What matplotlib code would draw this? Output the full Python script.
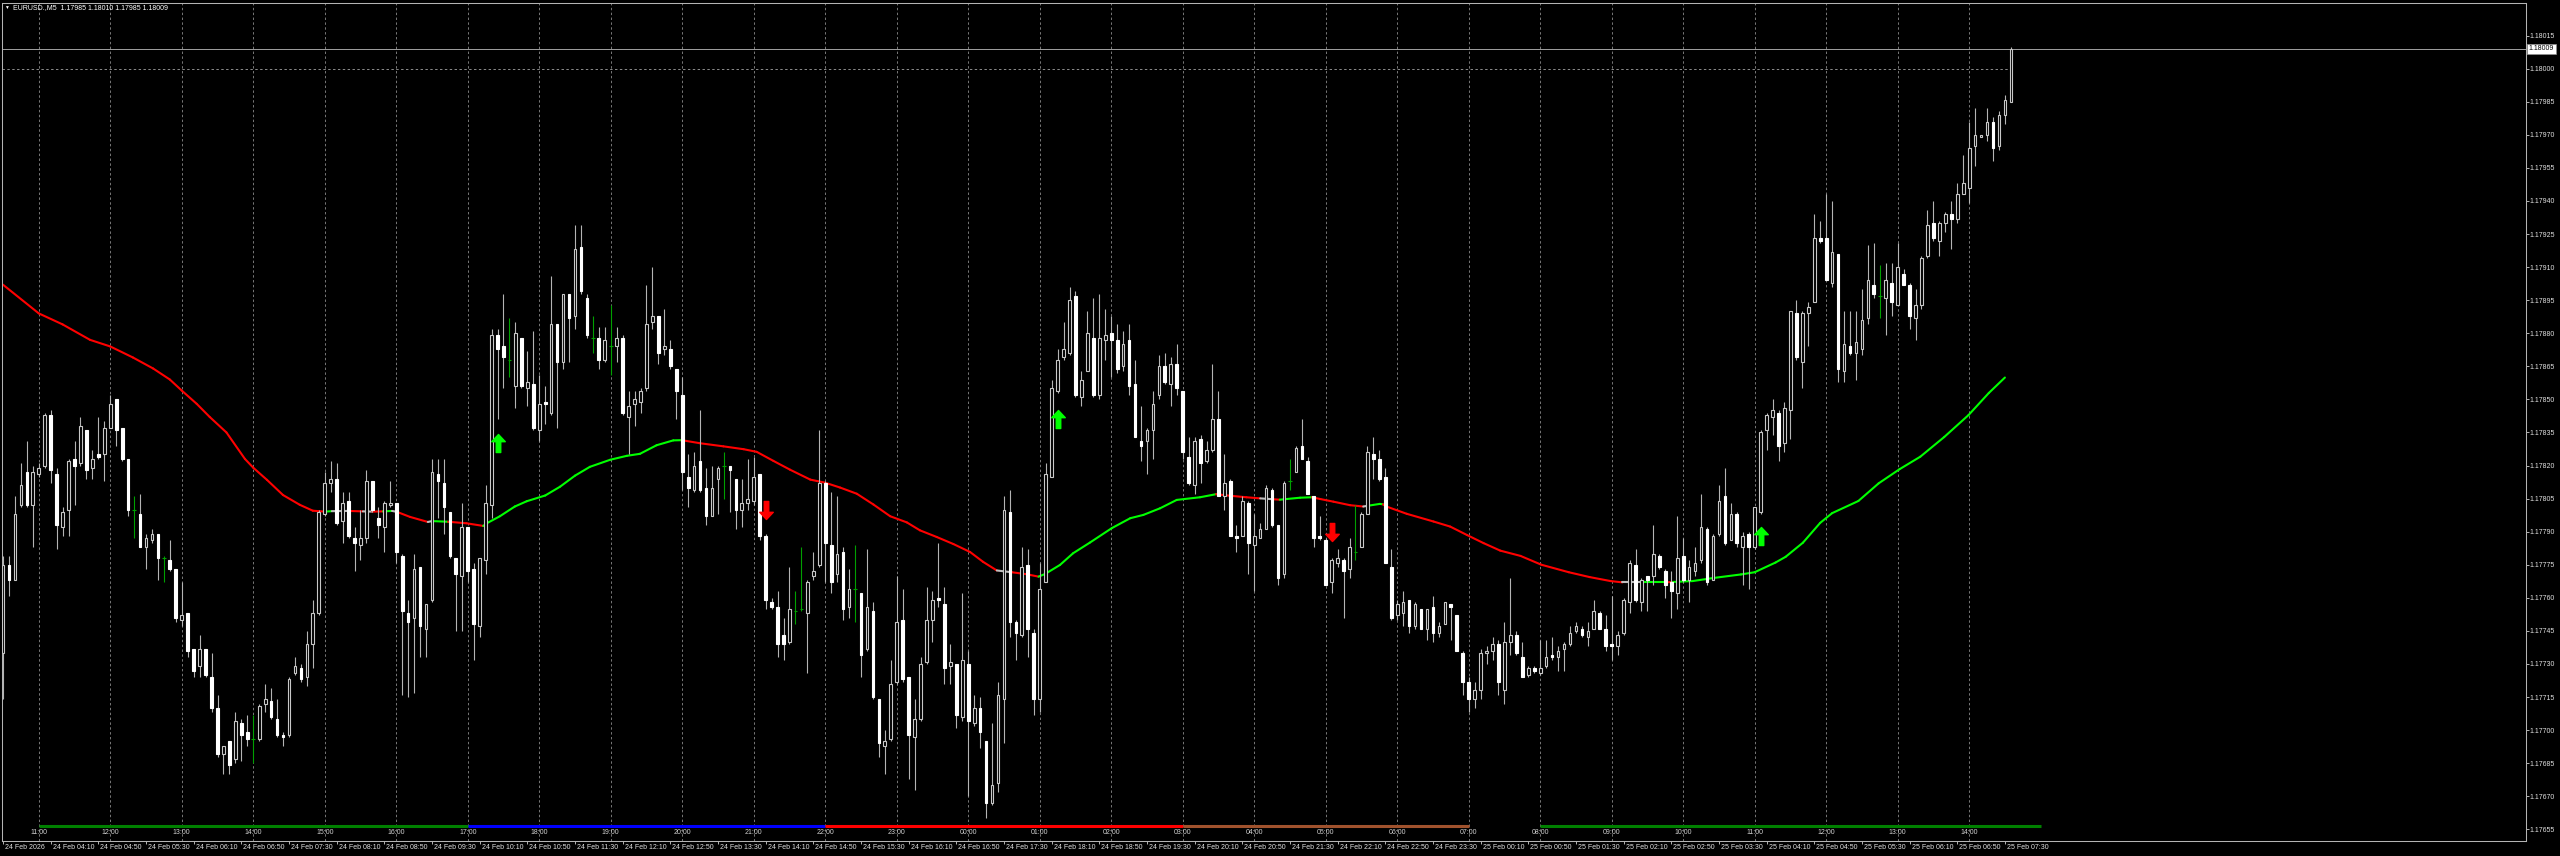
import numpy as np
import matplotlib.pyplot as plt
import matplotlib.transforms as mtransforms
from matplotlib.collections import LineCollection
from matplotlib.path import Path

plt.rcParams['font.family'] = ['Liberation Sans', 'DejaVu Sans']

# EURUSD M5 candles (bar 0 = 24 Feb 03:30)
opens = [
    1.17735, 1.17775, 1.17768, 1.17802, 1.17817, 1.17802, 1.17816, 1.17820, 1.17843, 1.17816,
    1.17792, 1.17800, 1.17823, 1.17821, 1.17836, 1.17819, 1.17825, 1.17825, 1.17837, 1.17850,
    1.17837, 1.17823, 1.17800, 1.17798, 1.17783, 1.17786, 1.17789, 1.17778, 1.17777, 1.17773,
    1.17750, 1.17753, 1.17737, 1.17729, 1.17737, 1.17724, 1.17710, 1.17689, 1.17695, 1.17687,
    1.17703, 1.17699, 1.17696, 1.17696, 1.17712, 1.17713, 1.17705, 1.17698, 1.17698, 1.17726,
    1.17728, 1.17724, 1.17739, 1.17753, 1.17798, 1.17812, 1.17814, 1.17795, 1.17804, 1.17787,
    1.17784, 1.17787, 1.17813, 1.17796, 1.17792, 1.17802, 1.17803, 1.17779, 1.17753, 1.17751,
    1.17774, 1.17746, 1.17759, 1.17816, 1.17812, 1.17799, 1.17778, 1.17770, 1.17792, 1.17773,
    1.17747, 1.17777, 1.17802, 1.17879, 1.17874, 1.17868, 1.17856, 1.17878, 1.17855, 1.17857,
    1.17836, 1.17849, 1.17844, 1.17884, 1.17867, 1.17898, 1.17888, 1.17919, 1.17896, 1.17878,
    1.17878, 1.17868, 1.17874, 1.17874, 1.17878, 1.17842, 1.17848, 1.17849, 1.17855, 1.17885,
    1.17888, 1.17873, 1.17873, 1.17864, 1.17852, 1.17815, 1.17809, 1.17822, 1.17810, 1.17797,
    1.17814, 1.17820, 1.17820, 1.17814, 1.17800, 1.17803, 1.17804, 1.17816, 1.17788, 1.17758,
    1.17756, 1.17743, 1.17740, 1.17754, 1.17755, 1.17753, 1.17770, 1.17775, 1.17812, 1.17784,
    1.17771, 1.17781, 1.17756, 1.17764, 1.17762, 1.17737, 1.17754, 1.17714, 1.17693, 1.17696,
    1.17722, 1.17750, 1.17724, 1.17697, 1.17705, 1.17731, 1.17750, 1.17760, 1.17757, 1.17729,
    1.17730, 1.17706, 1.17730, 1.17703, 1.17710, 1.17695, 1.17667, 1.17676, 1.17714, 1.17799,
    1.17749, 1.17743, 1.17775, 1.17744, 1.17714, 1.17767, 1.17815, 1.17854, 1.17869, 1.17871,
    1.17897, 1.17851, 1.17863, 1.17878, 1.17852, 1.17877, 1.17880, 1.17877, 1.17865, 1.17877,
    1.17857, 1.17831, 1.17831, 1.17836, 1.17852, 1.17865, 1.17857, 1.17866, 1.17854, 1.17824,
    1.17811, 1.17832, 1.17822, 1.17827, 1.17841, 1.17806, 1.17813, 1.17788, 1.17788, 1.17803,
    1.17784, 1.17787, 1.17791, 1.17809, 1.17793, 1.17771, 1.17813, 1.17817, 1.17829, 1.17822,
    1.17806, 1.17788, 1.17786, 1.17767, 1.17776, 1.17777, 1.17773, 1.17781, 1.17783, 1.17798,
    1.17825, 1.17823, 1.17815, 1.17774, 1.17752, 1.17753, 1.17759, 1.17747, 1.17755, 1.17746,
    1.17756, 1.17744, 1.17748, 1.17757, 1.17752, 1.17735, 1.17722, 1.17714, 1.17718, 1.17735,
    1.17736, 1.17739, 1.17718, 1.17740, 1.17743, 1.17733, 1.17725, 1.17728, 1.17726, 1.17729,
    1.17734, 1.17733, 1.17737, 1.17739, 1.17745, 1.17746, 1.17742, 1.17746, 1.17753, 1.17746,
    1.17739, 1.17738, 1.17744, 1.17758, 1.17775, 1.17758, 1.17770, 1.17770, 1.17779, 1.17772,
    1.17767, 1.17762, 1.17779, 1.17768, 1.17772, 1.17777, 1.17791, 1.17768, 1.17789, 1.17806,
    1.17786, 1.17798, 1.17783, 1.17789, 1.17783, 1.17799, 1.17836, 1.17842, 1.17844, 1.17830,
    1.17845, 1.17889, 1.17867, 1.17889, 1.17894, 1.17923, 1.17923, 1.17903, 1.17916, 1.17863,
    1.17874, 1.17871, 1.17873, 1.17887, 1.17902, 1.17897, 1.17896, 1.17903, 1.17893, 1.17907,
    1.17902, 1.17887, 1.17893, 1.17915, 1.17930, 1.17922, 1.17930, 1.17934, 1.17932, 1.17943,
    1.17946, 1.17965, 1.17969, 1.17970, 1.17976, 1.17965, 1.17979, 1.17985,
]
highs = [
    1.17779, 1.17779, 1.17806, 1.17821, 1.17831, 1.17820, 1.17821, 1.17844, 1.17845, 1.17819,
    1.17801, 1.17823, 1.17831, 1.17842, 1.17836, 1.17827, 1.17842, 1.17840, 1.17852, 1.17850,
    1.17837, 1.17823, 1.17806, 1.17807, 1.17789, 1.17791, 1.17789, 1.17779, 1.17786, 1.17773,
    1.17767, 1.17753, 1.17737, 1.17743, 1.17737, 1.17735, 1.17716, 1.17693, 1.17695, 1.17708,
    1.17705, 1.17707, 1.17707, 1.17712, 1.17721, 1.17719, 1.17714, 1.17699, 1.17724, 1.17733,
    1.17730, 1.17745, 1.17759, 1.17800, 1.17817, 1.17822, 1.17821, 1.17808, 1.17808, 1.17792,
    1.17800, 1.17818, 1.17813, 1.17801, 1.17804, 1.17813, 1.17803, 1.17780, 1.17759, 1.17780,
    1.17774, 1.17757, 1.17823, 1.17823, 1.17823, 1.17799, 1.17778, 1.17803, 1.17792, 1.17776,
    1.17778, 1.17811, 1.17882, 1.17882, 1.17898, 1.17887, 1.17885, 1.17878, 1.17872, 1.17881,
    1.17861, 1.17856, 1.17906, 1.17884, 1.17898, 1.17898, 1.17929, 1.17929, 1.17898, 1.17888,
    1.17883, 1.17883, 1.17893, 1.17883, 1.17879, 1.17854, 1.17854, 1.17855, 1.17902, 1.17910,
    1.17888, 1.17891, 1.17877, 1.17864, 1.17860, 1.17825, 1.17826, 1.17845, 1.17819, 1.17820,
    1.17820, 1.17826, 1.17820, 1.17814, 1.17814, 1.17823, 1.17824, 1.17816, 1.17789, 1.17760,
    1.17763, 1.17751, 1.17774, 1.17763, 1.17783, 1.17768, 1.17781, 1.17836, 1.17813, 1.17808,
    1.17806, 1.17783, 1.17773, 1.17784, 1.17762, 1.17782, 1.17758, 1.17714, 1.17700, 1.17732,
    1.17770, 1.17764, 1.17724, 1.17714, 1.17733, 1.17765, 1.17763, 1.17785, 1.17765, 1.17739,
    1.17730, 1.17762, 1.17736, 1.17716, 1.17715, 1.17695, 1.17703, 1.17722, 1.17806, 1.17809,
    1.17750, 1.17783, 1.17782, 1.17746, 1.17776, 1.17821, 1.17859, 1.17873, 1.17885, 1.17901,
    1.17899, 1.17863, 1.17890, 1.17896, 1.17898, 1.17891, 1.17888, 1.17884, 1.17881, 1.17884,
    1.17868, 1.17847, 1.17837, 1.17854, 1.17870, 1.17871, 1.17869, 1.17875, 1.17854, 1.17833,
    1.17833, 1.17834, 1.17831, 1.17866, 1.17854, 1.17825, 1.17814, 1.17793, 1.17806, 1.17804,
    1.17798, 1.17794, 1.17811, 1.17810, 1.17793, 1.17813, 1.17823, 1.17829, 1.17841, 1.17824,
    1.17806, 1.17797, 1.17787, 1.17778, 1.17782, 1.17778, 1.17787, 1.17802, 1.17799, 1.17829,
    1.17833, 1.17827, 1.17819, 1.17782, 1.17759, 1.17763, 1.17759, 1.17758, 1.17755, 1.17755,
    1.17761, 1.17749, 1.17758, 1.17757, 1.17752, 1.17736, 1.17724, 1.17722, 1.17737, 1.17738,
    1.17742, 1.17741, 1.17749, 1.17769, 1.17745, 1.17740, 1.17729, 1.17729, 1.17741, 1.17741,
    1.17742, 1.17738, 1.17740, 1.17747, 1.17749, 1.17747, 1.17749, 1.17759, 1.17754, 1.17752,
    1.17761, 1.17745, 1.17760, 1.17777, 1.17782, 1.17769, 1.17770, 1.17793, 1.17780, 1.17773,
    1.17772, 1.17797, 1.17787, 1.17777, 1.17783, 1.17807, 1.17792, 1.17789, 1.17811, 1.17819,
    1.17803, 1.17799, 1.17790, 1.17790, 1.17801, 1.17836, 1.17844, 1.17850, 1.17845, 1.17849,
    1.17890, 1.17895, 1.17890, 1.17894, 1.17934, 1.17931, 1.17943, 1.17940, 1.17916, 1.17890,
    1.17890, 1.17890, 1.17900, 1.17920, 1.17921, 1.17911, 1.17912, 1.17912, 1.17921, 1.17909,
    1.17903, 1.17900, 1.17915, 1.17936, 1.17940, 1.17931, 1.17935, 1.17940, 1.17948, 1.17961,
    1.17976, 1.17982, 1.17970, 1.17982, 1.17978, 1.17981, 1.17988, 1.18010,
]
lows = [
    1.17714, 1.17761, 1.17768, 1.17801, 1.17801, 1.17783, 1.17815, 1.17819, 1.17812, 1.17782,
    1.17788, 1.17788, 1.17802, 1.17820, 1.17814, 1.17814, 1.17823, 1.17813, 1.17837, 1.17829,
    1.17822, 1.17797, 1.17787, 1.17783, 1.17773, 1.17785, 1.17768, 1.17767, 1.17772, 1.17749,
    1.17747, 1.17733, 1.17724, 1.17724, 1.17724, 1.17708, 1.17688, 1.17680, 1.17680, 1.17685,
    1.17686, 1.17693, 1.17685, 1.17695, 1.17708, 1.17705, 1.17697, 1.17693, 1.17697, 1.17725,
    1.17722, 1.17720, 1.17728, 1.17752, 1.17797, 1.17808, 1.17793, 1.17785, 1.17787, 1.17772,
    1.17777, 1.17785, 1.17799, 1.17787, 1.17781, 1.17801, 1.17776, 1.17716, 1.17715, 1.17717,
    1.17733, 1.17733, 1.17758, 1.17796, 1.17789, 1.17778, 1.17745, 1.17745, 1.17767, 1.17732,
    1.17742, 1.17771, 1.17796, 1.17841, 1.17855, 1.17860, 1.17846, 1.17855, 1.17847, 1.17836,
    1.17831, 1.17839, 1.17843, 1.17837, 1.17864, 1.17867, 1.17882, 1.17898, 1.17878, 1.17871,
    1.17864, 1.17867, 1.17861, 1.17867, 1.17843, 1.17825, 1.17838, 1.17844, 1.17854, 1.17882,
    1.17866, 1.17870, 1.17864, 1.17841, 1.17809, 1.17801, 1.17808, 1.17808, 1.17793, 1.17797,
    1.17798, 1.17805, 1.17799, 1.17791, 1.17792, 1.17800, 1.17802, 1.17786, 1.17755, 1.17755,
    1.17733, 1.17732, 1.17739, 1.17748, 1.17754, 1.17726, 1.17768, 1.17774, 1.17767, 1.17762,
    1.17767, 1.17750, 1.17751, 1.17749, 1.17724, 1.17736, 1.17714, 1.17688, 1.17680, 1.17695,
    1.17721, 1.17722, 1.17678, 1.17673, 1.17704, 1.17730, 1.17740, 1.17756, 1.17721, 1.17721,
    1.17701, 1.17704, 1.17670, 1.17702, 1.17692, 1.17660, 1.17666, 1.17672, 1.17694, 1.17742,
    1.17732, 1.17742, 1.17733, 1.17707, 1.17708, 1.17767, 1.17815, 1.17853, 1.17868, 1.17870,
    1.17851, 1.17847, 1.17863, 1.17851, 1.17850, 1.17868, 1.17860, 1.17862, 1.17863, 1.17852,
    1.17833, 1.17822, 1.17816, 1.17823, 1.17850, 1.17857, 1.17847, 1.17852, 1.17823, 1.17811,
    1.17807, 1.17812, 1.17821, 1.17826, 1.17806, 1.17800, 1.17788, 1.17781, 1.17788, 1.17771,
    1.17763, 1.17787, 1.17791, 1.17792, 1.17766, 1.17769, 1.17809, 1.17817, 1.17823, 1.17807,
    1.17783, 1.17786, 1.17766, 1.17762, 1.17774, 1.17751, 1.17769, 1.17777, 1.17783, 1.17798,
    1.17814, 1.17813, 1.17776, 1.17750, 1.17750, 1.17747, 1.17744, 1.17746, 1.17746, 1.17741,
    1.17740, 1.17742, 1.17748, 1.17741, 1.17736, 1.17716, 1.17708, 1.17710, 1.17714, 1.17730,
    1.17732, 1.17716, 1.17712, 1.17734, 1.17734, 1.17724, 1.17724, 1.17726, 1.17725, 1.17728,
    1.17732, 1.17727, 1.17727, 1.17738, 1.17744, 1.17742, 1.17738, 1.17746, 1.17746, 1.17736,
    1.17732, 1.17734, 1.17743, 1.17753, 1.17758, 1.17754, 1.17754, 1.17766, 1.17773, 1.17760,
    1.17751, 1.17755, 1.17767, 1.17758, 1.17770, 1.17776, 1.17766, 1.17768, 1.17788, 1.17784,
    1.17786, 1.17783, 1.17766, 1.17764, 1.17782, 1.17798, 1.17827, 1.17834, 1.17822, 1.17826,
    1.17832, 1.17868, 1.17855, 1.17874, 1.17894, 1.17921, 1.17904, 1.17901, 1.17858, 1.17858,
    1.17870, 1.17859, 1.17870, 1.17884, 1.17896, 1.17887, 1.17879, 1.17888, 1.17893, 1.17902,
    1.17882, 1.17877, 1.17891, 1.17914, 1.17922, 1.17915, 1.17926, 1.17918, 1.17930, 1.17943,
    1.17939, 1.17956, 1.17969, 1.17967, 1.17958, 1.17963, 1.17975, 1.17985,
]
closes = [
    1.17775, 1.17768, 1.17798, 1.17811, 1.17802, 1.17817, 1.17819, 1.17843, 1.17818, 1.17793,
    1.17799, 1.17822, 1.17820, 1.17838, 1.17818, 1.17823, 1.17824, 1.17837, 1.17848, 1.17836,
    1.17823, 1.17800, 1.17800, 1.17783, 1.17787, 1.17789, 1.17778, 1.17778, 1.17773, 1.17751,
    1.17752, 1.17736, 1.17727, 1.17737, 1.17725, 1.17710, 1.17689, 1.17693, 1.17684, 1.17704,
    1.17698, 1.17696, 1.17696, 1.17711, 1.17714, 1.17706, 1.17698, 1.17697, 1.17723, 1.17729,
    1.17723, 1.17739, 1.17753, 1.17799, 1.17812, 1.17814, 1.17794, 1.17803, 1.17788, 1.17785,
    1.17787, 1.17813, 1.17800, 1.17793, 1.17803, 1.17803, 1.17781, 1.17754, 1.17749, 1.17773,
    1.17747, 1.17757, 1.17817, 1.17813, 1.17801, 1.17779, 1.17771, 1.17792, 1.17772, 1.17748,
    1.17778, 1.17803, 1.17879, 1.17873, 1.17869, 1.17868, 1.17880, 1.17856, 1.17858, 1.17837,
    1.17848, 1.17848, 1.17884, 1.17867, 1.17898, 1.17887, 1.17918, 1.17899, 1.17879, 1.17878,
    1.17868, 1.17877, 1.17874, 1.17878, 1.17844, 1.17847, 1.17850, 1.17854, 1.17884, 1.17888,
    1.17871, 1.17874, 1.17865, 1.17854, 1.17817, 1.17810, 1.17820, 1.17809, 1.17797, 1.17810,
    1.17819, 1.17820, 1.17818, 1.17800, 1.17803, 1.17805, 1.17815, 1.17788, 1.17759, 1.17756,
    1.17739, 1.17739, 1.17755, 1.17754, 1.17755, 1.17767, 1.17772, 1.17812, 1.17785, 1.17767,
    1.17780, 1.17755, 1.17764, 1.17764, 1.17734, 1.17756, 1.17715, 1.17694, 1.17695, 1.17721,
    1.17749, 1.17723, 1.17698, 1.17705, 1.17730, 1.17750, 1.17759, 1.17759, 1.17728, 1.17731,
    1.17707, 1.17732, 1.17704, 1.17710, 1.17699, 1.17667, 1.17675, 1.17716, 1.17800, 1.17749,
    1.17744, 1.17774, 1.17746, 1.17714, 1.17764, 1.17816, 1.17855, 1.17868, 1.17873, 1.17895,
    1.17852, 1.17859, 1.17880, 1.17852, 1.17878, 1.17879, 1.17877, 1.17864, 1.17875, 1.17856,
    1.17833, 1.17829, 1.17836, 1.17848, 1.17865, 1.17858, 1.17866, 1.17855, 1.17826, 1.17812,
    1.17831, 1.17821, 1.17827, 1.17841, 1.17806, 1.17812, 1.17788, 1.17787, 1.17804, 1.17785,
    1.17788, 1.17791, 1.17810, 1.17793, 1.17769, 1.17812, 1.17813, 1.17828, 1.17823, 1.17807,
    1.17787, 1.17787, 1.17766, 1.17777, 1.17778, 1.17772, 1.17783, 1.17781, 1.17798, 1.17826,
    1.17823, 1.17814, 1.17776, 1.17751, 1.17757, 1.17758, 1.17747, 1.17757, 1.17746, 1.17755,
    1.17744, 1.17747, 1.17758, 1.17756, 1.17736, 1.17722, 1.17714, 1.17718, 1.17735, 1.17736,
    1.17739, 1.17722, 1.17740, 1.17743, 1.17735, 1.17724, 1.17728, 1.17727, 1.17728, 1.17733,
    1.17733, 1.17736, 1.17739, 1.17744, 1.17747, 1.17743, 1.17745, 1.17754, 1.17746, 1.17738,
    1.17738, 1.17743, 1.17759, 1.17776, 1.17759, 1.17768, 1.17768, 1.17780, 1.17774, 1.17766,
    1.17763, 1.17778, 1.17768, 1.17774, 1.17776, 1.17792, 1.17767, 1.17788, 1.17804, 1.17785,
    1.17798, 1.17785, 1.17788, 1.17783, 1.17801, 1.17835, 1.17843, 1.17845, 1.17829, 1.17846,
    1.17890, 1.17869, 1.17889, 1.17892, 1.17923, 1.17922, 1.17904, 1.17917, 1.17864, 1.17875,
    1.17871, 1.17876, 1.17886, 1.17904, 1.17898, 1.17897, 1.17904, 1.17894, 1.17910, 1.17902,
    1.17888, 1.17893, 1.17914, 1.17929, 1.17923, 1.17930, 1.17934, 1.17932, 1.17943, 1.17948,
    1.17964, 1.17970, 1.17970, 1.17976, 1.17964, 1.17979, 1.17986, 1.18009,
]

# moving average (two-colour), sampled along the line
ma_bars = [
    0, 6, 10, 14.6, 18, 21.8, 25.2, 28, 30, 32.5,
    34.7, 37.5, 40.6, 42, 44.3, 47, 49.8, 52, 54, 55.2,
    57.9, 60.4, 62, 63.8, 65.3, 66.1, 68.3, 71.3, 72, 74.7,
    77.8, 80.6, 81.2, 83.4, 85.9, 87.9, 91, 93.5, 96, 98.5,
    101.9, 104.7, 106.9, 109.7, 112.5, 113.9, 117, 120.9, 124.3, 126.5,
    129.3, 132.1, 135.5, 138, 140.5, 143.3, 146.1, 148.9, 151.7, 153.9,
    156.7, 159.5, 162.3, 164.5, 166.8, 169.3, 171.8, 173.8, 174.9, 177.4,
    179.6, 182.4, 186.1, 189.2, 191.4, 194.2, 197, 200.9, 203.6, 205.9,
    208.7, 211, 213.2, 214.3, 217.7, 219.7, 221.1, 223.3, 226.1, 228.3,
    229.2, 231.1, 231.6, 232.2, 235.6, 240.1, 242.9, 245.7, 248.5, 251.3,
    254.7, 258.2, 262.8, 266.3, 269.8, 271.8, 275, 279, 280.3, 283.6,
    287.1, 291.7, 294, 297.5, 299.2, 302.1, 305, 307, 311.4, 314.8,
    318.3, 321.8, 325.8, 329.9, 333.3, 336,
]
ma_vals = [
    1.17902, 1.17889, 1.17884, 1.17877, 1.17874, 1.17869, 1.17864, 1.17859, 1.17854, 1.17848,
    1.17842, 1.17835, 1.17823, 1.17819, 1.178135, 1.178066, 1.178022, 1.177995, 1.177991, 1.177993,
    1.177994, 1.177992, 1.177991, 1.177992, 1.177994, 1.17799, 1.177967, 1.177944, 1.177948, 1.177945,
    1.177938, 1.177926, 1.177938, 1.17797, 1.178014, 1.178038, 1.178064, 1.178104, 1.178154, 1.178194,
    1.178226, 1.178244, 1.178253, 1.178292, 1.178314, 1.178315, 1.178301, 1.178287, 1.178274, 1.178262,
    1.178221, 1.178181, 1.178136, 1.178122, 1.1781, 1.178072, 1.178023, 1.17797, 1.177942, 1.177906,
    1.177876, 1.177844, 1.177808, 1.177763, 1.177724, 1.177716, 1.177707, 1.177696, 1.177708, 1.177749,
    1.177802, 1.17785, 1.177916, 1.177961, 1.177976, 1.178006, 1.178044, 1.178056, 1.17807, 1.178063,
    1.178056, 1.178051, 1.178047, 1.178045, 1.178054, 1.178056, 1.178048, 1.178036, 1.17802, 1.178014,
    1.178018, 1.178026, 1.178024, 1.178014, 1.177981, 1.177946, 1.177923, 1.177885, 1.177848, 1.177814,
    1.17779, 1.17775, 1.177716, 1.177694, 1.177676, 1.17767, 1.17767, 1.17767, 1.177672, 1.177676,
    1.17769, 1.177706, 1.177716, 1.17776, 1.177786, 1.17785, 1.17794, 1.177984, 1.178039, 1.178119,
    1.178183, 1.17824, 1.178329, 1.178429, 1.178529, 1.178599,
]
# colour of each segment: r = falling, g = rising, w = neutral
ma_cols = ('r' * 18 + 'gwrwrgwrrwgrrg' + 'g' * 13 + 'r' * 19 + 'wrr' + 'g' * 11
           + 'rrrwrggrrrrwgg' + 'r' * 13 + 'wgr' + 'g' * 17)

up_arrow_bars = [83, 177, 295]
up_arrow_prices = [1.17830, 1.17841, 1.17788]
down_arrow_bars = [128, 223]
down_arrow_prices = [1.17800, 1.17790]

# trading session bars at the bottom
session_start = [6, 78, 138, 198, 258]
session_end = [78, 138, 198, 246, 342]
session_colors = ['#008000', '#0000ff', '#ff0000', '#a0522d', '#008000']

hour_labels = ['11:00', '12:00', '13:00', '14:00', '15:00', '16:00', '17:00',
               '18:00', '19:00', '20:00', '21:00', '22:00', '23:00', '00:00',
               '01:00', '02:00', '03:00', '04:00', '05:00', '06:00', '07:00',
               '08:00', '09:00', '10:00', '11:00', '12:00', '13:00', '14:00']

date_labels = ['24 Feb 2026', '24 Feb 04:10', '24 Feb 04:50', '24 Feb 05:30', '24 Feb 06:10',
               '24 Feb 06:50', '24 Feb 07:30', '24 Feb 08:10', '24 Feb 08:50', '24 Feb 09:30',
               '24 Feb 10:10', '24 Feb 10:50', '24 Feb 11:30', '24 Feb 12:10', '24 Feb 12:50',
               '24 Feb 13:30', '24 Feb 14:10', '24 Feb 14:50', '24 Feb 15:30', '24 Feb 16:10',
               '24 Feb 16:50', '24 Feb 17:30', '24 Feb 18:10', '24 Feb 18:50', '24 Feb 19:30',
               '24 Feb 20:10', '24 Feb 20:50', '24 Feb 21:30', '24 Feb 22:10', '24 Feb 22:50',
               '24 Feb 23:30', '25 Feb 00:10', '25 Feb 00:50', '25 Feb 01:30', '25 Feb 02:10',
               '25 Feb 02:50', '25 Feb 03:30', '25 Feb 04:10', '25 Feb 04:50', '25 Feb 05:30',
               '25 Feb 06:10', '25 Feb 06:50', '25 Feb 07:30']

price_ticks = [1.17655, 1.17670, 1.17685, 1.17700, 1.17715, 1.17730, 1.17745, 1.17760,
               1.17775, 1.17790, 1.17805, 1.17820, 1.17835, 1.17850, 1.17865, 1.17880,
               1.17895, 1.17910, 1.17925, 1.17940, 1.17955, 1.17970, 1.17985, 1.18000,
               1.18015]

symbol = 'EURUSD.,M5'
alert_level = 1.18000

# ---- drawing ----
o = np.array(opens)
h = np.array(highs)
l = np.array(lows)
c = np.array(closes)
x = np.arange(len(o))
bull = c > o
bear = c < o
doji = c == o

W, H = 2560, 856
fig = plt.figure(figsize=(W / 100, H / 100), dpi=100, facecolor='black')
ax = fig.add_axes([2 / W, 15 / H, 2524 / W, 838.5 / H], facecolor='black')
ax.set_xlim(-0.17, 423.46)
ax.set_ylim(1.176497, 1.180300)

grid_col = '#787878'
hour_bars = 6 + 12 * np.arange(len(hour_labels))
for hb in hour_bars:
    ax.axvline(hb, color=grid_col, lw=0.7, ls=(0, (2.5, 2.5)), zorder=1)

ax.hlines(alert_level, -0.2, 336.5, colors='#8c8c8c', lw=0.7, linestyles=(0, (2.5, 2.5)), zorder=1)
ax.axhline(c[-1], color='#a0a0a0', lw=0.7, zorder=1)

# moving average
cmap = {'r': '#ff0000', 'g': '#00ff00', 'w': '#bebebe'}
pts = np.column_stack([ma_bars, ma_vals])
segs = np.stack([pts[:-1], pts[1:]], axis=1)
ax.add_collection(LineCollection(segs, colors=[cmap[k] for k in ma_cols], lw=1.5,
                                 capstyle='round', zorder=2))

# candles
wick_col = np.where(doji, '#00a000', '#b4b4b4')
ax.vlines(x, np.minimum(l, np.minimum(o, c)), np.maximum(h, np.maximum(o, c)),
          colors=wick_col, lw=0.8, zorder=3)
ax.bar(x[bull], (c - o)[bull], bottom=o[bull], width=0.45, facecolor='black',
       edgecolor='#c8c8c8', lw=0.8, zorder=4)
ax.bar(x[bear], (o - c)[bear], bottom=c[bear], width=0.45, facecolor='white',
       edgecolor='white', lw=0.8, zorder=4)
ax.hlines(o[doji], x[doji] - 0.3, x[doji] + 0.3, colors='#00a000', lw=0.8, zorder=4)

# signal arrows
up = Path([(0, 1), (0.75, 0.2), (0.25, 0.2), (0.25, -1), (-0.25, -1), (-0.25, 0.2),
           (-0.75, 0.2), (0, 1)], closed=True)
down = Path([(0, -1), (0.75, -0.2), (0.25, -0.2), (0.25, 1), (-0.25, 1), (-0.25, -0.2),
             (-0.75, -0.2), (0, -1)], closed=True)
ax.plot(up_arrow_bars, up_arrow_prices, ls='none', marker=up, ms=13,
        color='#00ff00', mec='#00ff00', zorder=6)
ax.plot(down_arrow_bars, down_arrow_prices, ls='none', marker=down, ms=13,
        color='#ff0000', mec='#ff0000', zorder=6)

# sessions and hour labels along the bottom
xtr = ax.get_xaxis_transform()
for s0, s1, col in zip(session_start, session_end, session_colors):
    ax.plot([s0, s1], [0.0179, 0.0179], color=col, lw=2.2, transform=xtr,
            solid_capstyle='butt', zorder=5)
for hb, lab in zip(hour_bars, hour_labels):
    ax.text(hb, 0.0106, lab, transform=xtr, ha='center', va='center',
            fontsize=5, color='#d0d0d0', zorder=5)

# axes / ticks
for sp in ax.spines.values():
    sp.set_color('#b4b4b4')
    sp.set_linewidth(0.75)

ax.yaxis.tick_right()
ax.set_yticks(price_ticks)
ax.set_yticklabels([f'{p:.5f}' for p in price_ticks])
ax.tick_params(axis='y', colors='#b4b4b4', labelcolor='#e0e0e0', labelsize=5,
               length=2, width=0.7, pad=0.6)

ax.set_xticks(np.arange(0, 8 * len(date_labels), 8))
ax.set_xticklabels(date_labels)
ax.tick_params(axis='x', colors='#b4b4b4', labelcolor='#e0e0e0', labelsize=5,
               length=2, width=0.7, pad=0.2)
shift = mtransforms.ScaledTranslation(2 / 100, 0, fig.dpi_scale_trans)
for lab in ax.get_xticklabels():
    lab.set_horizontalalignment('left')
    lab.set_transform(lab.get_transform() + shift)

# current price box
btr = mtransforms.blended_transform_factory(ax.transAxes, ax.transData)
ax.text(1 + 2.5 / 2524, c[-1], f'{c[-1]:.5f}', transform=btr, ha='left', va='center',
        fontsize=5, color='black', zorder=7,
        bbox=dict(boxstyle='square,pad=0.25', facecolor='white', edgecolor='#909090', lw=0.5))

# header
fig.text(4 / W, 1 - 7.5 / H, '\u25bc', fontsize=3.5, color='white', va='center', ha='left')
fig.text(13 / W, 1 - 7.5 / H,
         f'{symbol}  {o[-1]:.5f} {h[-1]:.5f} {l[-1]:.5f} {c[-1]:.5f}',
         fontsize=5, color='white', va='center', ha='left')

fig.savefig('out.png', dpi=100, facecolor='black')
